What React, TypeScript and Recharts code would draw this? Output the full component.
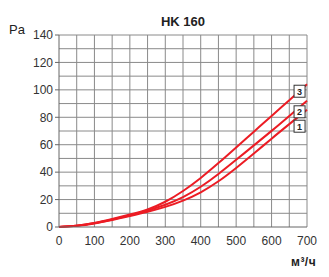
import React from 'react'
import {
    LineChart,
    Line,
    XAxis,
    YAxis,
    ReferenceLine,
    ReferenceDot,
} from 'recharts';

const flow = [0, 50, 100, 150, 200, 250, 300, 350, 400, 450, 500, 550, 600, 650, 700];
const curve1 = [0, 0.7, 2.5, 5, 8, 11, 14.5, 19, 25, 33, 43, 53.5, 64.5, 75, 85.5];
const curve2 = [0, 0.8, 2.7, 5.5, 8.5, 12, 16, 21.5, 29, 38.5, 49, 59.5, 70, 81, 92];
const curve3 = [0, 0.8, 2.8, 5.8, 9, 12.5, 18, 26, 35.5, 46.5, 58, 69.5, 81, 92.5, 104];

const xTicks = [0, 100, 200, 300, 400, 500, 600, 700];
const yTicks = [0, 20, 40, 60, 80, 100, 120, 140];
const gridX = [50, 100, 150, 200, 250, 300, 350, 400, 450, 500, 550, 600, 650, 700];
const gridY = [10, 20, 30, 40, 50, 60, 70, 80, 90, 100, 110, 120, 130, 140];

const labelNames = ['1', '2', '3'];
const labelFlow = 679;
const labelPa = [73.5, 84, 99];

const data = flow.map((q, i) => ({ q, c1: curve1[i], c2: curve2[i], c3: curve3[i] }));

const font = '"Liberation Sans", Arial, sans-serif';
const red = '#ec1c24';

function makeBox(name: string) {
    return (props: any) => {
        const { cx, cy } = props;
        return (
            <g>
                <rect x={cx - 5.5} y={cy - 6} width={11} height={12} fill="#fff" stroke="#333" strokeWidth={1} />
                <text x={cx} y={cy + 3.5} textAnchor="middle" fontSize={9} fontWeight="bold" fill="#222" fontFamily={font}>
                    {name}
                </text>
            </g>
        );
    };
}

function App() {
    return (
        <div style={{ position: 'absolute', left: 0, top: 0, width: 329, height: 277, background: '#fff', fontFamily: font }}>
            <div style={{ position: 'absolute', left: 0, top: 14, width: 366, textAlign: 'center', fontSize: 13, fontWeight: 'bold', color: '#222' }}>
                HK 160
            </div>
            <div style={{ position: 'absolute', left: 9, top: 22, fontSize: 13, color: '#222' }}>Pa</div>
            <div style={{ position: 'absolute', left: 291, top: 255, fontSize: 12, fontWeight: 'bold', color: '#222', letterSpacing: 0.5 }}>м³/ч</div>
            <LineChart width={329} height={277} data={data} margin={{ top: 35, right: 22, bottom: 20, left: 0 }}>
                {gridX.map((v) => (
                    <ReferenceLine key={'x' + v} x={v} stroke="#8a8a8a" strokeWidth={1} />
                ))}
                {gridY.map((v) => (
                    <ReferenceLine key={'y' + v} y={v} stroke="#8a8a8a" strokeWidth={1} />
                ))}
                <XAxis
                    dataKey="q"
                    type="number"
                    domain={[0, 700]}
                    ticks={xTicks}
                    tickLine={false}
                    axisLine={{ stroke: '#666' }}
                    tick={{ fontSize: 12, fill: '#333', fontFamily: font }}
                    tickMargin={3}
                    height={30}
                />
                <YAxis
                    type="number"
                    domain={[0, 140]}
                    ticks={yTicks}
                    width={59}
                    tickSize={4}
                    tickLine={{ stroke: '#666' }}
                    axisLine={{ stroke: '#666' }}
                    tick={{ fontSize: 12, fill: '#333', fontFamily: font }}
                />
                <Line type="basis" dataKey="c1" stroke={red} strokeWidth={2} dot={false} isAnimationActive={false} />
                <Line type="basis" dataKey="c2" stroke={red} strokeWidth={2} dot={false} isAnimationActive={false} />
                <Line type="basis" dataKey="c3" stroke={red} strokeWidth={2} dot={false} isAnimationActive={false} />
                {labelNames.map((n, i) => (
                    <ReferenceDot key={n} x={labelFlow} y={labelPa[i]} r={6} shape={makeBox(n)} />
                ))}
            </LineChart>
        </div>
    )
}

export default App
